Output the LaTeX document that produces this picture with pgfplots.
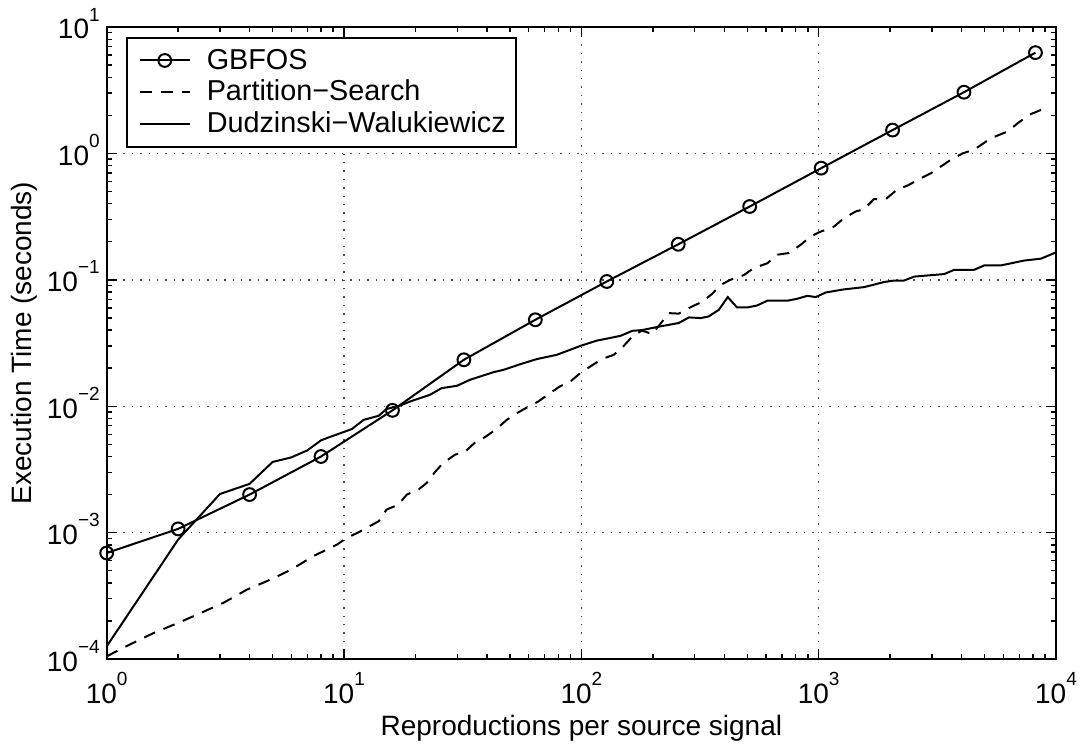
\documentclass[border=0pt]{standalone}
\usepackage{fontspec}
\setmainfont{Liberation Sans}
\usepackage{pgfplots}
\pgfplotsset{compat=1.18}

% MATLAB-like 10^n label, set in the text font
\newcommand{\tp}[1]{10\raisebox{0.64em}{\fontsize{9.5}{9.5}\selectfont #1}}

\pgfplotstableread{
x y
1 6.9e-4
2 1.07e-3
4 2.0e-3
8 4.0e-3
16 9.27e-3
32 2.33e-2
64 4.83e-2
128 9.7e-2
256 0.191
512 0.38
1024 0.764
2048 1.53
4096 3.05
8192 6.27
}\gbfos

\pgfplotstableread{
x y
1 1.05e-4
1.25 1.3e-4
1.57 1.6e-4
2 1.93e-4
2.5 2.32e-4
3.1 2.78e-4
3.9 3.54e-4
4.9 4.25e-4
6 5.1e-4
7.4 6.5e-4
9.3 8.0e-4
10.3 9.1e-4
11.7 1.02e-3
12.1 1.06e-3
14 1.23e-3
15.1 1.52e-3
16.9 1.66e-3
18.4 2.0e-3
20.6 2.19e-3
22.3 2.47e-3
24.3 3.05e-3
26.2 3.56e-3
29.4 4.14e-3
32.3 4.35e-3
35.5 5.12e-3
39.3 5.7e-3
43.9 6.6e-3
48.5 7.8e-3
53.5 8.8e-3
60 9.96e-3
65.9 1.09e-2
73.8 1.27e-2
81 1.43e-2
90 1.57e-2
99 1.83e-2
109 2.06e-2
122 2.36e-2
137 2.55e-2
151 3.0e-2
164 3.57e-2
180 3.97e-2
199 3.72e-2
215 4.47e-2
234 5.45e-2
257 5.4e-2
289 6.08e-2
323 6.7e-2
356 7.75e-2
386 9.1e-2
425 0.1
484 0.109
533 0.124
607 0.135
670 0.158
750 0.163
839 0.189
925 0.22
1000 0.237
1161 0.264
1278 0.307
1432 0.347
1552 0.362
1710 0.435
1918 0.435
2148 0.52
2367 0.556
2650 0.625
2970 0.697
3270 0.787
3600 0.889
4040 1.0
4520 1.07
5070 1.24
5590 1.37
6250 1.49
6890 1.73
7710 2.02
8650 2.21
}\partsearch

\pgfplotstableread{
x y
1 1.26e-4
2 8.8e-4
3 2.02e-3
4 2.43e-3
5 3.62e-3
6 3.94e-3
7 4.47e-3
8 5.37e-3
8.7 5.7e-3
10.8 6.6e-3
12.1 7.8e-3
14 8.4e-3
15.1 9.5e-3
17.2 1.01e-2
19 1.09e-2
23 1.23e-2
25.8 1.39e-2
29.9 1.45e-2
34 1.62e-2
42.7 1.86e-2
47 1.94e-2
55.3 2.15e-2
65 2.36e-2
78.8 2.55e-2
90 2.8e-2
99 3.0e-2
116 3.3e-2
146 3.6e-2
164 3.95e-2
180 4.0e-2
215 4.28e-2
257 4.55e-2
284 5.04e-2
318 4.98e-2
344 5.13e-2
380 5.8e-2
414 7.3e-2
453 6.04e-2
500 6.04e-2
551 6.27e-2
607 6.83e-2
737 6.83e-2
812 7.08e-2
896 7.47e-2
971 7.3e-2
1071 7.94e-2
1278 8.4e-2
1552 8.75e-2
1886 9.6e-2
2080 9.87e-2
2290 9.87e-2
2524 0.106
3380 0.111
3725 0.12
4520 0.12
4985 0.13
5865 0.13
7340 0.142
8650 0.147
10000 0.165
}\dudwal

\begin{document}
\begin{tikzpicture}
\useasboundingbox (-53.35pt,-42.5pt) rectangle (487.65pt,329.5pt);
\begin{axis}[
  at={(0pt,0pt)}, anchor=south west,
  scale only axis, width=474.65pt, height=316pt,
  xmode=log, ymode=log,
  xmin=1, xmax=10000, ymin=1e-4, ymax=10,
  xtick={1,10,100,1000,10000},
  xticklabels={\tp{0},\tp{1},\tp{2},\tp{3},\tp{4}},
  ytick={1e-4,1e-3,1e-2,1e-1,1,10},
  yticklabels={\tp{−4},\tp{−3},\tp{−2},\tp{−1},\tp{0},\tp{1}},
  tick align=inside,
  major tick length=5pt, minor tick length=2.5pt,
  every tick/.style={black, line width=0.7pt},
  axis line style={line width=0.9pt},
  grid=major,
  major grid style={black!70, line width=0.7pt, dash pattern=on 0.7pt off 3.5pt},
  xticklabel style={font=\fontsize{14}{16}\selectfont, anchor=base, inner sep=0pt, yshift=-22pt},
  yticklabel style={font=\fontsize{14}{16}\selectfont, anchor=base east, inner sep=0pt, xshift=-3.3pt, yshift=-6pt},
  xlabel={Reproductions per source signal},
  ylabel={Execution Time (seconds)},
  every axis x label/.style={at={([yshift=-38pt]rel axis cs:0.5,0)}, anchor=base, font=\fontsize{14}{16}\selectfont},
  every axis y label/.style={at={([xshift=-37.8pt]rel axis cs:0,0.5)}, rotate=90, anchor=base, font=\fontsize{14}{16}\selectfont},
  clip=false,
  legend cell align=left,
  legend style={at={(rel axis cs:0.0203,0.984)}, anchor=north west,
    draw=black, line width=0.8pt, font=\fontsize{14.4}{17}\selectfont,
    inner xsep=3pt, inner ysep=3.5pt, row sep=0pt},
  legend image code/.code={
    \path (-3pt,0pt) (31pt,0pt);
    \draw[mark repeat=2, mark phase=2]
    plot coordinates {(0pt,0pt) (12.5pt,0pt) (25pt,0pt)};},
]
\addplot[black, line width=1pt, mark=o, mark size=3.2pt] table {\gbfos};
\addplot[black, line width=1pt, dash pattern=on 6pt off 4.5pt] table {\partsearch};
\addplot[black, line width=1pt] table {\dudwal};
\legend{GBFOS, Partition−Search, Dudzinski−Walukiewicz}
\end{axis}
\end{tikzpicture}
\end{document}
